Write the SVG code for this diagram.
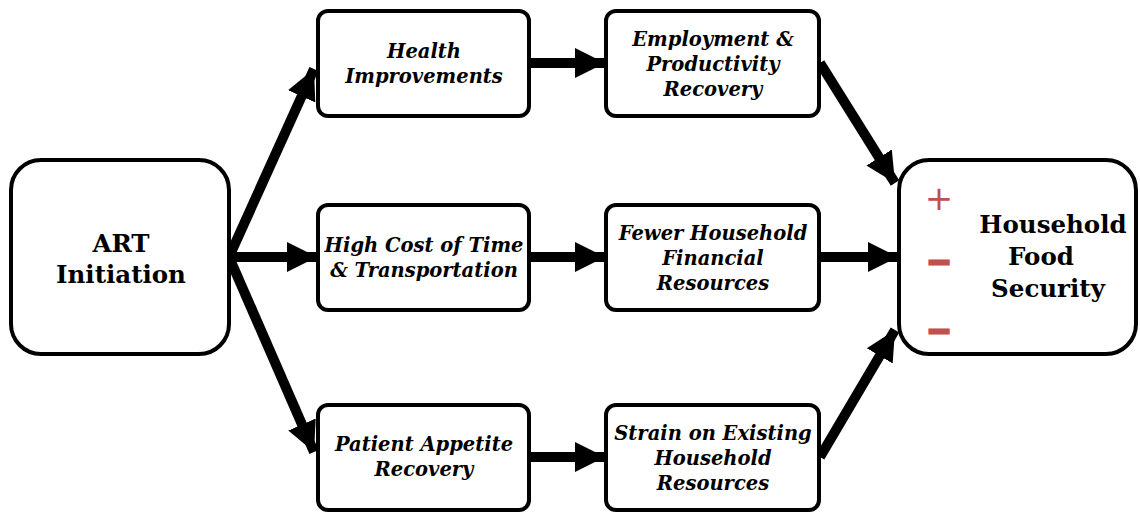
<svg xmlns="http://www.w3.org/2000/svg" width="1140" height="512" viewBox="0 0 1140 512">
  <style>
    .box { fill: #ffffff; stroke: #000000; stroke-width: 4; }
    .lbl { font-family: "DejaVu Serif", "Liberation Serif", serif; font-size: 19.5px; font-weight: bold; font-style: italic; fill: #000000; text-anchor: middle; }
    .big { font-family: "DejaVu Serif", "Liberation Serif", serif; font-size: 24.5px; font-weight: bold; fill: #000000; text-anchor: middle; }
    .sign { font-family: "DejaVu Sans", "Liberation Sans", sans-serif; fill: #C0504D; text-anchor: middle; }
    .minus { stroke: #C0504D; stroke-width: 2.5; }
    .conn { stroke: #000000; stroke-width: 10; fill: none; }
  </style>
  <defs>
    <marker id="head" viewBox="0 0 10 10" refX="10" refY="5" markerUnits="userSpaceOnUse" markerWidth="30" markerHeight="32" orient="auto">
      <path d="M0,0 L10,5 L0,10 Z" fill="#000000"/>
    </marker>
  </defs>

  <g id="connectors">
    <line class="conn" x1="229" y1="257" x2="314" y2="69" marker-end="url(#head)"/>
    <line class="conn" x1="229" y1="257" x2="317" y2="257" marker-end="url(#head)"/>
    <line class="conn" x1="229" y1="257" x2="314" y2="452" marker-end="url(#head)"/>
    <line class="conn" x1="529" y1="63" x2="605" y2="63" marker-end="url(#head)"/>
    <line class="conn" x1="529" y1="257" x2="605" y2="257" marker-end="url(#head)"/>
    <line class="conn" x1="529" y1="457" x2="605" y2="457" marker-end="url(#head)"/>
    <line class="conn" x1="820" y1="63" x2="895" y2="183" marker-end="url(#head)"/>
    <line class="conn" x1="820" y1="257" x2="898" y2="257" marker-end="url(#head)"/>
    <line class="conn" x1="820" y1="457" x2="895" y2="330" marker-end="url(#head)"/>
  </g>

  <g id="art-initiation">
    <rect class="box" x="11" y="160" width="218" height="194" rx="30"/>
    <text class="big" x="121" y="252">ART</text>
    <text class="big" x="121" y="283">Initiation</text>
  </g>

  <g id="health-improvements">
    <rect class="box" x="318" y="11" width="211" height="105" rx="10"/>
    <text class="lbl" x="424" y="58">Health</text>
    <text class="lbl" x="424" y="83">Improvements</text>
  </g>

  <g id="employment-recovery">
    <rect class="box" x="606" y="11" width="213" height="105" rx="10"/>
    <text class="lbl" x="713" y="46">Employment &amp;</text>
    <text class="lbl" x="713" y="71">Productivity</text>
    <text class="lbl" x="713" y="96">Recovery</text>
  </g>

  <g id="cost-time-transport">
    <rect class="box" x="318" y="205" width="211" height="105" rx="10"/>
    <text class="lbl" x="424" y="252">High Cost of Time</text>
    <text class="lbl" x="424" y="277">&amp; Transportation</text>
  </g>

  <g id="fewer-resources">
    <rect class="box" x="606" y="205" width="213" height="105" rx="10"/>
    <text class="lbl" x="713" y="240">Fewer Household</text>
    <text class="lbl" x="713" y="265">Financial</text>
    <text class="lbl" x="713" y="290">Resources</text>
  </g>

  <g id="appetite-recovery">
    <rect class="box" x="318" y="405" width="211" height="105" rx="10"/>
    <text class="lbl" x="424" y="451">Patient Appetite</text>
    <text class="lbl" x="424" y="476">Recovery</text>
  </g>

  <g id="strain-resources">
    <rect class="box" x="606" y="405" width="213" height="105" rx="10"/>
    <text class="lbl" x="713" y="440">Strain on Existing</text>
    <text class="lbl" x="713" y="465">Household</text>
    <text class="lbl" x="713" y="490">Resources</text>
  </g>

  <g id="food-security">
    <rect class="box" x="899" y="160" width="237" height="194" rx="30"/>
    <text class="big" x="1053" y="233">Household</text>
    <text class="big" x="1041" y="265">Food</text>
    <text class="big" x="1048" y="297">Security</text>
    <text class="sign" x="939" y="210" font-size="34">+</text>
    <text class="sign minus" x="939" y="272" font-size="30" font-weight="bold">−</text>
    <text class="sign minus" x="939" y="341" font-size="30" font-weight="bold">−</text>
  </g>
</svg>
